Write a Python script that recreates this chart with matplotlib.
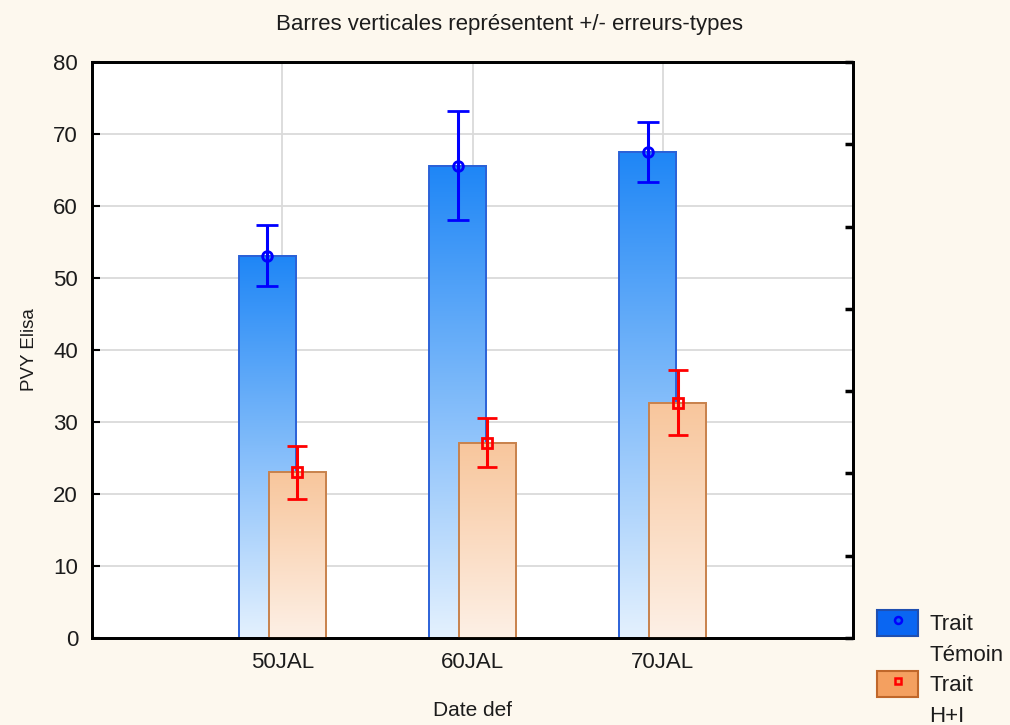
import numpy as np
import matplotlib
matplotlib.use('Agg')
import matplotlib.pyplot as plt
from matplotlib.colors import LinearSegmentedColormap
from matplotlib.patches import Rectangle, Patch
from matplotlib.lines import Line2D
from matplotlib.legend_handler import HandlerTuple

# Moyennes et erreurs-types par date de défanage
dates = ['50JAL', '60JAL', '70JAL']
temoin_mean = [53.1, 65.6, 67.5]
temoin_se = [4.2, 7.6, 4.2]
hi_mean = [23.0, 27.1, 32.7]
hi_se = [3.7, 3.4, 4.5]
series_labels = ['Trait', 'Témoin', 'Trait', 'H+I']

plt.rcParams['font.family'] = ['Liberation Sans', 'DejaVu Sans']

BG = '#FDF8EE'
TXT = '#1C1C1C'
blue_cmap = LinearSegmentedColormap.from_list('bleu', ['#E4F1FE', '#1E86F6'])
orange_cmap = LinearSegmentedColormap.from_list('orange', ['#FDF0E6', '#F8C69C'])


def gradient_bar(ax, x, h, width, cmap, edge, z):
    # barre avec un dégradé vertical (foncé en haut, clair en bas)
    grad = np.linspace(1, 0, 256).reshape(-1, 1)
    ax.imshow(grad, extent=(x - width / 2, x + width / 2, 0, h), origin='upper',
              cmap=cmap, aspect='auto', zorder=z, interpolation='bilinear')
    ax.add_patch(Rectangle((x - width / 2, 0), width, h, facecolor='none',
                           edgecolor=edge, lw=1.4, zorder=z + 0.1))


fig = plt.figure(figsize=(10.1, 7.25), dpi=100, facecolor=BG)
ax = fig.add_axes([0.0911, 0.12, 0.7535, 0.7945])
ax.set_facecolor('white')

pos = np.arange(1, len(dates) + 1)
width = 0.30
offset = 0.078

for x, m in zip(pos - offset, temoin_mean):
    gradient_bar(ax, x, m, width, blue_cmap, '#2C62D8', 2)
ax.errorbar(pos - offset, temoin_mean, yerr=temoin_se, fmt='o', color='#0000FF',
            mfc='none', mec='#0000FF', ms=7, mew=2, elinewidth=2.2, capsize=8,
            capthick=2.2, zorder=3)

for x, m in zip(pos + offset, hi_mean):
    gradient_bar(ax, x, m, width, orange_cmap, '#C8824C', 4)
ax.errorbar(pos + offset, hi_mean, yerr=hi_se, fmt='s', color='#FF0000',
            mfc='none', mec='#FF0000', ms=6.5, mew=2, elinewidth=2.2, capsize=7.5,
            capthick=2.2, zorder=5)

ax.set_xlim(0, 4)
ax.set_ylim(0, 80)
ax.set_xticks(pos)
ax.set_xticklabels(dates)
ax.set_yticks(np.arange(0, 81, 10))
ax.grid(True, color='#DADADA', lw=1.3)
ax.set_axisbelow(True)

for s in ax.spines.values():
    s.set_linewidth(2)
ax.tick_params(axis='both', direction='in', labelsize=16, width=1.5, length=6,
               labelcolor=TXT)
ax.tick_params(axis='x', pad=10, length=5)
ax.tick_params(axis='y', pad=10)

# graduations sans étiquettes sur le bord droit
twin = ax.twinx()
twin.set_ylim(0, 80)
twin.set_yticks(np.linspace(0, 80, 8))
twin.tick_params(axis='y', direction='in', length=6, width=2.5, labelright=False)
for s in twin.spines.values():
    s.set_linewidth(2)

ax.set_xlabel('Date def', fontsize=15, labelpad=20, color=TXT)
ax.set_ylabel('PVY Elisa', fontsize=13.5, labelpad=11, color=TXT)
fig.text(0.504, 0.966, 'Barres verticales représentent +/- erreurs-types',
         ha='center', va='center', fontsize=16, color=TXT)

h_temoin = (Patch(facecolor='#0A66F2', edgecolor='#1F4FB0', lw=1.5),
            Line2D([], [], ls='none', marker='o', mfc='none', mec='#0000FF', ms=5, mew=1.8))
h_hi = (Patch(facecolor='#F4A060', edgecolor='#C0672A', lw=1.5),
        Line2D([], [], ls='none', marker='s', mfc='none', mec='#FF0000', ms=5, mew=1.8))
blank = Patch(facecolor='none', edgecolor='none')
fig.legend([h_temoin, blank, h_hi, blank], series_labels,
           handler_map={tuple: HandlerTuple(ndivide=1, pad=0)},
           loc='upper left', bbox_to_anchor=(877 / 1010, 1 - 610 / 725),
           frameon=False, fontsize=16, handlelength=1.85, handleheight=1.4,
           handletextpad=0.5, labelspacing=0.22, borderpad=0, borderaxespad=0,
           labelcolor=TXT)

fig.savefig('out.png', dpi=100, facecolor=BG)
